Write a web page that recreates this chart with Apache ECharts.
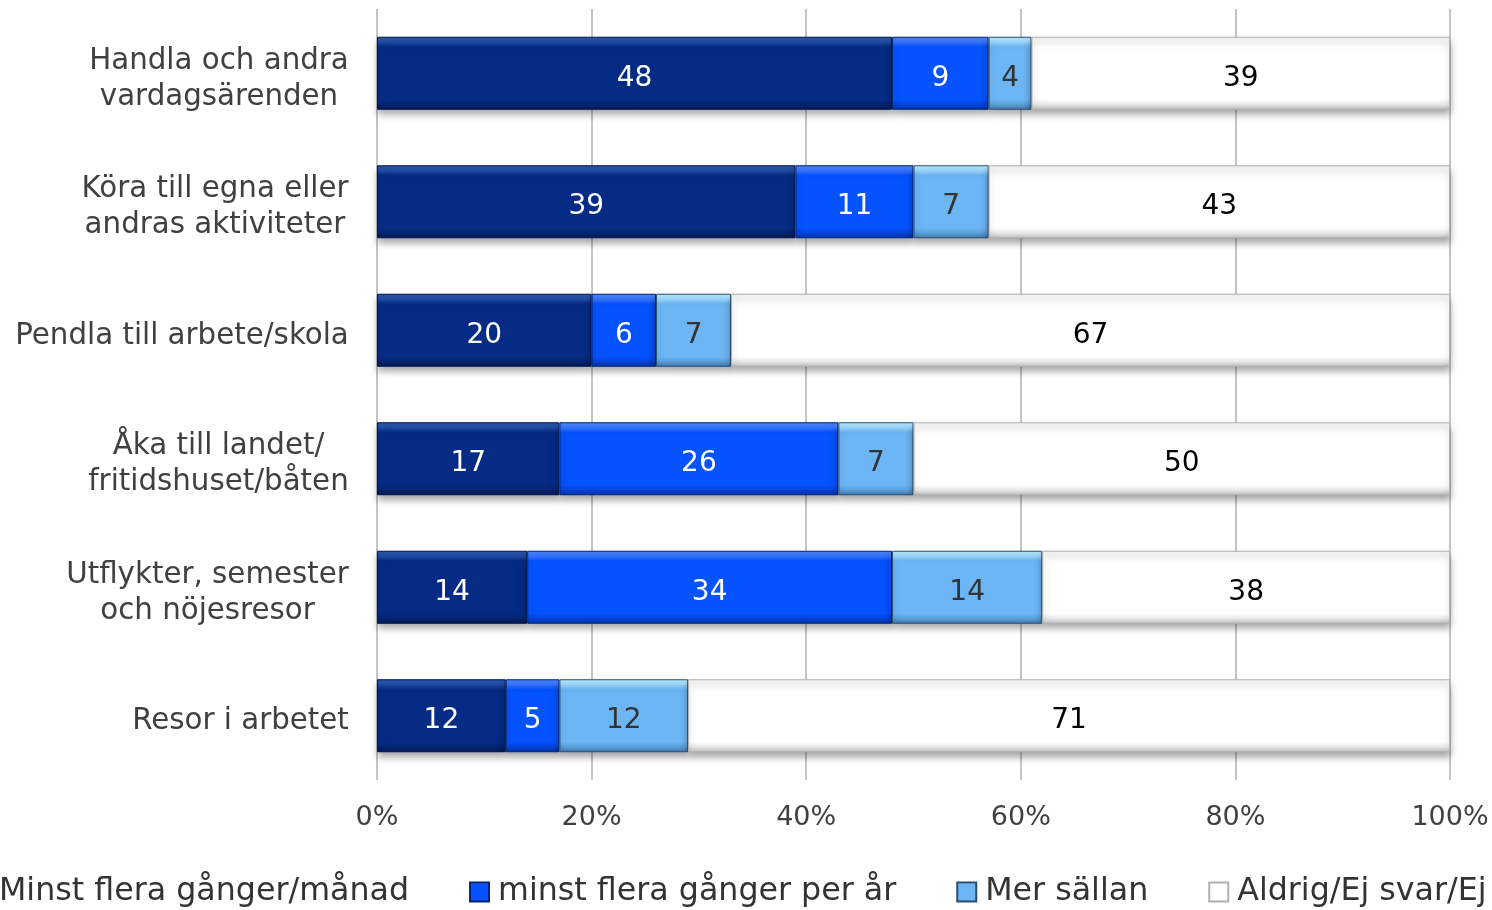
<!DOCTYPE html>
<html>
<head>
<meta charset="utf-8">
<script src="https://cdn.jsdelivr.net/npm/echarts@6/dist/echarts.min.js"></script>
<style>
html,body{margin:0;padding:0;background:#fff;}
#c{width:1492px;height:910px;}
</style>
</head>
<body>
<div id="c"></div>
<script>
const categories = [
  'Handla och andra\nvardagsärenden',
  'Köra till egna eller\nandras aktiviteter',
  'Pendla till arbete/skola',
  'Åka till landet/\nfritidshuset/båten',
  'Utflykter, semester\noch nöjesresor',
  'Resor i arbetet'
];
const seriesNames = ['Minst flera gånger/månad', 'minst flera gånger per år', 'Mer sällan', 'Aldrig/Ej svar/Ej'];
const monthly = [48, 39, 20, 17, 14, 12];
const yearly = [9, 11, 6, 26, 34, 5];
const rarely = [4, 7, 7, 7, 14, 12];
const never = [39, 43, 67, 50, 38, 71];
const xTicks = [0, 20, 40, 60, 80, 100];

const FONT = '"DejaVu Sans", Verdana, sans-serif';
const catFontSize = 29.3;

// measure category label widths so lines can be centered within a right-aligned block
const mctx = document.createElement('canvas').getContext('2d');
mctx.font = catFontSize + 'px "DejaVu Sans"';
const rich = {};
categories.forEach((c, i) => {
  const w = Math.max(...c.split('\n').map(l => mctx.measureText(l).width));
  rich['c' + i] = {width: Math.ceil(w), align: 'center', fontSize: catFontSize, lineHeight: 36, color: '#404040', fontFamily: FONT};
});

function grad(top, hi, base, low, bottom) {
  return new echarts.graphic.LinearGradient(0, 0, 0, 1, [
    {offset: 0, color: top},
    {offset: 0.07, color: hi},
    {offset: 0.14, color: base},
    {offset: 0.86, color: base},
    {offset: 0.93, color: low},
    {offset: 1, color: bottom}
  ]);
}

const styles = [
  {color: grad('#2A55AE', '#2450A8', '#052B84', '#04246F', '#021A55'), border: '#011544', label: '#ffffff'},
  {color: grad('#4A85FF', '#3A78FF', '#0552FF', '#0443D6', '#0334A8'), border: '#02256F', label: '#ffffff'},
  {color: grad('#B5ECFF', '#A0DCFF', '#6CB6F5', '#5A9ED8', '#3F78AA'), border: '#2B4E70', label: '#333333'},
  {color: grad('#F2F2F2', '#FAFAFA', '#FFFFFF', '#E6E6E6', '#BDBDBD'), border: '#B0B0B0', label: '#000000'}
];
const dataSets = [monthly, yearly, rarely, never];

const series = dataSets.map((d, k) => ({
  name: seriesNames[k],
  type: 'bar',
  stack: 'total',
  barWidth: 73,
  data: d,
  itemStyle: {
    color: styles[k].color,
    borderColor: styles[k].border,
    borderWidth: 1,
    shadowColor: 'rgba(0,0,0,0.35)',
    shadowBlur: 7,
    shadowOffsetY: 5
  },
  label: {
    show: true,
    position: 'inside',
    offset: [0, 5],
    color: styles[k].label,
    fontSize: 28,
    fontFamily: FONT
  },
  emphasis: {disabled: true}
}));

const chart = echarts.init(document.getElementById('c'), null, {renderer: 'canvas'});
chart.setOption({
  animation: false,
  backgroundColor: '#ffffff',
  grid: {left: 377, right: 42, top: 9, height: 771},
  legend: {
    data: seriesNames,
    left: -35,
    top: 871,
    width: 1800,
    icon: 'rect',
    itemWidth: 19,
    itemHeight: 19,
    itemGap: 60,
    textStyle: {fontSize: 31.7, color: '#333333', fontFamily: FONT, padding: [0, 0, 0, 4]}
  },
  xAxis: {
    type: 'value',
    min: xTicks[0],
    max: xTicks[xTicks.length - 1],
    interval: 20,
    axisLine: {show: false},
    axisTick: {show: false},
    axisLabel: {formatter: '{value}%', fontSize: 27, color: '#404040', fontFamily: FONT, margin: 24},
    splitLine: {show: true, lineStyle: {color: '#C4C4C4', width: 2}}
  },
  yAxis: {
    type: 'category',
    data: categories,
    inverse: true,
    axisLine: {show: false},
    axisTick: {show: false},
    axisLabel: {
      margin: 28,
      padding: [12, 0, 0, 0],
      formatter: (v, i) => v.split('\n').map(l => '{c' + i + '|' + l + '}').join('\n'),
      rich: rich
    }
  },
  series: series
});
</script>
</body>
</html>
